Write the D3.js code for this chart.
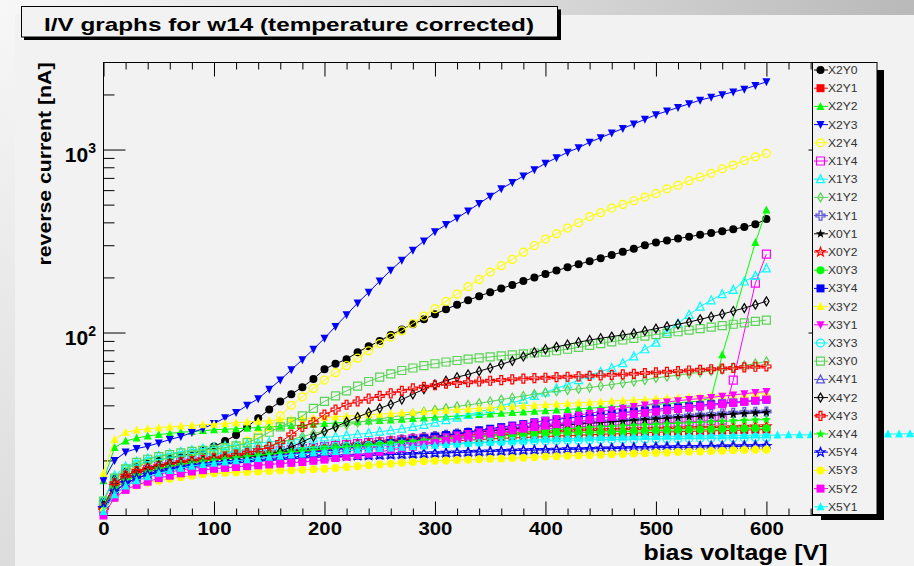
<!DOCTYPE html>
<html>
<head>
<meta charset="utf-8">
<script src="https://cdn.jsdelivr.net/npm/d3@7"></script>
<style>
  body { margin: 0; background: #f2f2f2; }
  svg { display: block; }
  text { font-family: "Liberation Sans", Arial, Helvetica, sans-serif; }
</style>
</head>
<body>
<div id="chart"></div>
<script>
// bias voltage steps [V]
const voltages = [0,10,20,30,40,50,60,70,80,90,100,110,120,130,140,150,160,170,180,190,200,210,220,230,240,250,260,270,280,290,300,310,320,330,340,350,360,370,380,390,400,410,420,430,440,450,460,470,480,490,500,510,520,530,540,550,560,570,580,590,600,610,620,630,640,650,660,670,680,690,700,710,720,730,740];

const seriesNames = ["X2Y0","X2Y1","X2Y2","X2Y3","X2Y4","X1Y4","X1Y3","X1Y2","X1Y1","X0Y1","X0Y2","X0Y3","X3Y4","X3Y2","X3Y1","X3Y3","X3Y0","X4Y1","X4Y2","X4Y3","X4Y4","X5Y4","X5Y3","X5Y2","X5Y1"];
const seriesColors = ["#000000","#ff0000","#00ff00","#0000ff","#ffff00","#ff00ff","#00ffff","#59d454","#5954d9","#000000","#ff0000","#00ff00","#0000ff","#ffff00","#ff00ff","#00ffff","#59d454","#5954d9","#000000","#ff0000","#00ff00","#0000ff","#ffff00","#ff00ff","#00ffff"];
const seriesMarkers = [20,21,22,23,24,25,26,27,28,29,30,20,21,22,23,24,25,26,27,28,29,30,20,21,22];

// reverse current [nA], one value per voltage step (null = no point)
const x2y0 = [12,16,17.5,18.5,19.3,20,20.6,21.2,21.8,22.6,23.8,25.5,27.5,30.5,34,38,42,46,50.3,55.7,63,67.5,71.5,78,84,90,97,104,111,118,126,134,142,150,158,166,174,182,191,200,209,218,227,236,245,255,265,276,287,300,310,318,326,334,342,350,358,367,377,390,417];
const x2y1 = [11,14,15.5,16.5,17.3,18,18.5,19,19.4,19.8,20.2,20.5,20.8,21,21.3,21.5,21.8,22,22.3,22.5,22.8,23,23.3,23.5,23.8,24,24.3,24.5,24.8,25,25.2,25.4,25.6,25.8,26,26.2,26.4,26.5,26.7,26.8,27,27.2,27.3,27.5,27.6,27.8,27.9,28,28.2,28.3,28.5,28.6,28.7,28.8,28.9,29,29.1,29.2,29.3,29.4,29.5];
const x2y2 = [15.5,23.5,25.5,26.5,27.2,27.7,28.1,28.5,28.8,29.1,29.4,29.6,29.8,30,30.3,30.5,30.7,31,31.2,31.5,31.8,32,32.3,32.5,32.8,33,33.3,33.6,33.9,34.1,34.4,34.7,35,35.3,35.6,35.9,36.2,36.5,36.8,37.1,37.4,37.7,38,38.3,38.6,38.9,39.2,39.5,39.8,40.1,40.5,40.9,41.3,41.7,42.2,44,75.5,null,null,310,467];
const x2y3 = [15.5,20,22.2,23.2,23.9,24.9,26,27,28.4,29.8,31.8,34.2,36.5,40,43.5,49,55,62.6,71,81,93,108,125,145,166,191,219,248,282,316,355,389,422,462,507,556,610,661,716,776,841,902,966,1023,1096,1161,1230,1303,1380,1462,1549,1622,1698,1778,1862,1928,1995,2065,2138,2239,2344];
const x2y4 = [12,16,17.5,18.5,19.3,20,20.5,21,21.5,22,22.5,23.2,24.2,25.5,27.5,30.5,35,40,44.5,49.5,55,60.3,66,72.4,79.4,87,94.4,102,112,123,135,148,162,178,195,214,232,251,275,299,324,347,372,398,430,452,479,501,525,550,575,610,638,676,708,741,785,822,871,912,953];
const x1y4 = [11,14.5,16,17,17.8,18.5,19,19.5,19.9,20.3,20.7,21,21.4,21.7,22,22.3,22.6,22.9,23.2,23.5,23.8,24.1,24.4,24.7,25,25.3,25.6,25.9,26.2,26.5,26.8,27.1,27.4,27.7,28,28.3,28.6,28.9,29.2,29.5,29.8,30,30.3,30.5,30.8,31,31.2,31.4,31.6,31.8,32,32.2,32.4,32.6,32.8,33,33.2,55,null,186,268];
const x1y3 = [12,16.5,18.5,19.7,20.5,21.2,21.8,22.3,22.8,23.2,23.6,24,24.3,24.6,24.9,25.2,25.5,25.8,26.1,26.4,26.7,27,27.4,27.8,28.2,28.7,29.2,29.8,30.5,31.3,32.2,33.2,34.3,35.5,36.8,38.2,39.7,41.3,43,45,47,49.5,52,55,58.5,61,64,68,74,81,88,101,112,125,138.6,150,162,171,190,204,224];
const x1y2 = [11,15,16.5,17.5,18.3,19,19.4,19.8,20.2,20.6,21.5,22,22.5,23,23.5,24.2,25,26,27,28,29,30.2,31.3,32.2,33,33.7,34.5,35.2,36,36.9,37.8,38.6,39.5,40.2,41,42,43,44,45,46,47,47.7,48.5,49.2,50,51,52,53,54,55,56.5,57.5,58.5,59.5,60.5,61.7,63,64.5,66,67.7,69.5];
const x1y1 = [11,14.5,16,17,17.8,18.5,19,19.5,20,20.3,20.5,20.8,21.1,21.4,21.7,22,22.3,22.6,22.9,23.2,23.5,23.8,24.1,24.4,24.8,25.2,25.6,26,26.4,26.8,27.2,27.6,28,28.4,28.8,29.2,29.6,30,30.4,30.8,31.2,31.5,31.8,32.1,32.4,32.7,33,33.3,33.6,34,34.3,34.6,34.9,35.2,35.5,35.8,36.1,36.4,36.7,36.9,37];
const x0y1 = [11,14.5,16,17,17.8,18.5,19,19.5,19.9,20.2,20.5,20.8,21.1,21.4,21.7,22,22.3,22.6,22.9,23.2,23.5,23.8,24.1,24.4,24.7,25,25.4,25.8,26.2,26.6,27,27.4,27.8,28.2,28.6,29,29.4,29.8,30.1,30.4,30.7,31,31.3,31.6,31.9,32.2,32.5,32.8,33.1,33.4,33.7,34,34.3,34.6,34.9,35.2,35.5,35.8,36.1,36.4,36.6];
const x0y2 = [11,14.5,16,17,17.8,18.5,19,19.5,19.9,20.3,20.6,20.9,21.2,21.5,21.8,22.1,22.4,22.7,23,23.3,23.6,23.9,24.2,24.5,24.8,25.1,25.4,25.7,26,26.2,26.4,26.6,26.8,27,27.2,27.4,27.6,27.8,28,28.2,28.4,28.6,28.8,29,29.1,29.2,29.3,29.4,29.5,29.6,29.7,29.8,29.9,30,30.1,30.2,30.3,30.4,30.5,30.6,30.7];
const x0y3 = [11,14,15.5,16.5,17.3,18,18.5,19,19.4,19.8,20.1,20.4,20.7,21,21.3,21.6,21.9,22.2,22.5,22.8,23.1,23.4,23.7,24,24.3,24.6,24.9,25.2,25.5,25.8,26.1,26.3,26.5,26.7,26.9,27.1,27.3,27.5,27.7,27.9,28.1,28.2,28.3,28.4,28.5,28.6,28.7,28.8,28.9,29,29.1,29.2,29.3,29.4,29.5,29.6,29.7,29.8,29.9,30,30];
const x3y4 = [10.5,13.5,15,16,16.8,17.5,18,18.5,18.9,19.2,19.5,19.8,20.1,20.4,20.7,21,21.3,21.6,21.9,22.2,22.5,22.9,23.3,23.7,24.1,24.5,24.9,25.4,25.9,26.4,27,27.5,28,28.6,29.2,29.8,30.4,31,31.6,32.3,33,33.5,34,34.5,35,35.5,36,36.5,37,37.5,38,38.5,39,39.5,40,40.5,41,41.5,42,42.5,43];
const x3y2 = [17,26,28.5,29.3,29.8,30.2,30.5,30.8,31.1,31.3,31.5,31.8,32.1,32.4,32.7,33,33.3,33.6,33.9,34.1,34.3,34.6,34.9,35.2,35.5,35.8,36.1,36.4,36.7,37,37.3,37.6,37.9,38.2,38.5,38.8,39.2,39.5,39.8,40.1,40.4,40.7,41,41.3,41.6,41.9,42.2,42.5,42.8,43.1,43.4,43.7,44,44.3,44.6,45,45.3,45.7,46,46.4,46.8];
const x3y1 = [10.5,13,14.5,15.5,16.2,16.8,17.3,17.7,18.1,18.4,18.7,19,19.3,19.6,19.9,20.2,20.5,20.8,21.1,21.4,21.7,22.1,22.5,22.9,23.3,23.8,24.3,24.8,25.3,25.8,26.3,26.9,27.5,28.1,28.7,29.4,30.1,30.8,31.5,32.2,33,33.8,34.6,35.4,36.2,37,37.8,38.6,39.4,40.2,41,41.7,42.4,43,43.6,44.2,44.9,45.6,46.3,47,47.6];
const x3y3 = [12,16,18,19,19.7,20.2,20.6,21,21.3,21.6,21.8,22,22.2,22.4,22.6,22.8,23,23.2,23.4,23.6,23.7,23.8,23.9,24,24.1,24.2,24.3,24.4,24.5,24.6,24.7,24.8,24.9,25,25.1,25.2,25.3,25.4,25.5,25.6,25.6,25.7,25.8,25.8,25.9,26,26,26.1,26.1,26.2,26.2,26.3,26.3,26.4,26.4,26.5,26.5,26.6,26.6,26.7,26.7];
const x3y0 = [12,16,18,19.5,20.3,21,21.5,22,22.4,22.7,23,23.5,24,25,26.5,28.5,30.5,32.5,35,38.5,42,45,48,51,54,57,59.5,62,64,66,67.5,69,70.3,71.5,72.6,73.6,74.6,75.5,76.4,77.3,78.2,79.5,81,83,85,87,89,91,93,95.5,97.5,99,101,103,105,107,109,111,113,115,117];
const x4y1 = [11,13.5,15,16,16.7,17.2,17.7,18.1,18.5,18.8,19,19.2,19.4,19.6,19.8,20,20.2,20.4,20.6,20.8,20.9,21,21.1,21.2,21.3,21.4,21.5,21.6,21.7,21.8,21.9,22,22.1,22.2,22.3,22.4,22.5,22.6,22.7,22.8,22.9,23,23.1,23.2,23.3,23.4,23.5,23.6,23.7,23.8,23.9,24,24,24.1,24.1,24.2,24.2,24.3,24.3,24.4,24.4];
const x4y2 = [11,15,16.5,17.5,18.2,18.8,19.3,19.6,19.9,20.1,20.3,20.5,20.7,20.9,21.1,21.4,22.4,23.7,25.2,27,28.8,30.5,32.5,34.5,36.5,38.5,40.5,43,46,49,52,54.5,57,59,61.5,64,67,70,74,78,81,83.5,86,88.5,91,93,95,97,99,102,105,108,111,114,118,122,126,131,136,142,148];
const x4y3 = [11,15,16.5,17.5,18,18.5,19,19.5,19.8,20.1,20.5,21,21.5,22,22.7,23.7,25.2,27.7,30.5,32.3,35.6,37.9,40.3,42,43.5,45,46.5,48,49.5,50.5,51.5,52.5,53,53.5,54,54.5,55,55.5,56,56.3,56.6,57,57.3,57.6,58,58.3,58.7,59,59.5,60,60.5,61,61.5,62,62.5,63,63.5,64,64.5,65,65.3];
const x4y4 = [11,14,15.5,16.5,17.3,18,18.5,19,19.4,19.8,20.1,20.4,20.7,21,21.3,21.6,21.9,22.2,22.5,22.8,23.1,23.4,23.7,24,24.3,24.6,24.9,25.2,25.5,25.8,26.1,26.4,26.7,27,27.3,27.6,27.9,28.2,28.5,28.8,29.1,29.4,29.7,30,30.3,30.5,30.7,30.9,31.1,31.3,31.5,31.7,31.9,32.1,32.3,32.5,32.7,32.9,33.1,33.3,33.4];
const x5y4 = [11,13.5,15,16,16.7,17.2,17.7,18.1,18.5,18.8,19,19.2,19.4,19.6,19.8,20,20.2,20.4,20.6,20.8,20.9,21,21.1,21.2,21.3,21.4,21.5,21.6,21.7,21.8,21.9,22,22.1,22.2,22.3,22.4,22.5,22.6,22.7,22.8,22.8,22.9,23,23,23.1,23.2,23.2,23.3,23.4,23.4,23.5,23.5,23.6,23.6,23.7,23.7,23.8,23.8,23.9,23.9,24];
const x5y3 = [10.5,12.5,13.8,14.6,15.1,15.5,15.9,16.2,16.5,16.8,17,17.1,17.2,17.3,17.4,17.5,17.6,17.7,17.8,17.9,18,18.2,18.4,18.6,18.8,19,19.2,19.4,19.6,19.8,19.9,20,20.1,20.2,20.3,20.4,20.5,20.6,20.7,20.8,21,21.1,21.2,21.3,21.4,21.5,21.6,21.7,21.8,21.9,22,22.1,22.2,22.3,22.4,22.5,22.6,22.7,22.8,22.9,22.9];
const x5y2 = [10,12.5,13.8,14.7,15.3,16,16.5,17,17.4,17.7,18,18.2,18.4,18.6,18.8,19,19.2,19.4,19.6,19.9,20.2,20.6,21,21.4,21.8,22.3,22.8,23.3,23.8,24.4,25,25.6,26.2,26.8,27.4,28,28.6,29.2,29.8,30.4,31,31.6,32.2,32.8,33.4,34,34.6,35.2,35.8,36.4,37,37.6,38.2,38.8,39.4,40,40.6,41.2,41.8,42.4,43];
const x5y1 = [10.5,13,14.5,15.5,16.3,17,17.6,18.1,18.6,19,19.3,19.6,19.9,20.2,20.5,20.8,21.1,21.4,21.7,22,22.2,22.4,22.6,22.8,23,23.2,23.4,23.6,23.8,24,24.2,24.4,24.6,24.8,25,25.2,25.4,25.6,25.8,26,26.1,26.2,26.3,26.4,26.5,26.6,26.7,26.8,26.9,27,27,27.1,27.1,27.2,27.2,27.3,27.3,27.4,27.4,27.5,27.5,27.5,27.6,27.6,27.6,27.7,27.7,27.7,27.8,27.8,27.8,27.9,27.9,28,28];

const seriesValues = [x2y0,x2y1,x2y2,x2y3,x2y4,x1y4,x1y3,x1y2,x1y1,x0y1,x0y2,x0y3,x3y4,x3y2,x3y1,x3y3,x3y0,x4y1,x4y2,x4y3,x4y4,x5y4,x5y3,x5y2,x5y1];

// axis ticks
const xMajorTicks = [0,100,200,300,400,500,600];
const xMinorTicks = [20,40,60,80,120,140,160,180,220,240,260,280,320,340,360,380,420,440,460,480,520,540,560,580,620,640];
const yMajorTicks = [100,1000];
const yMajorLabels = [["10","2"],["10","3"]];
const yMinorTicks = [20,30,40,50,60,70,80,90,200,300,400,500,600,700,800,900,2000];

const W = 914, H = 566;
const frame = { left: 103.5, right: 830.5, top: 62.5, bottom: 515.5 };

const svg = d3.select("#chart").append("svg").attr("width", W).attr("height", H);
const defs = svg.append("defs");

const gTop = defs.append("linearGradient").attr("id", "gTop").attr("x1", 0).attr("x2", 1).attr("y1", 0).attr("y2", 0);
gTop.append("stop").attr("offset", 0).attr("stop-color", "#f7f7f7");
gTop.append("stop").attr("offset", 0.45).attr("stop-color", "#e2e2e2");
gTop.append("stop").attr("offset", 1).attr("stop-color", "#b9b9b9");
const gLeft = defs.append("linearGradient").attr("id", "gLeft").attr("x1", 0).attr("x2", 0).attr("y1", 0).attr("y2", 1);
gLeft.append("stop").attr("offset", 0).attr("stop-color", "#f7f7f7");
gLeft.append("stop").attr("offset", 1).attr("stop-color", "#dcdcdc");

// slide background and canvas
svg.append("rect").attr("x", 0).attr("y", 0).attr("width", 15).attr("height", H).attr("fill", "url(#gLeft)");
svg.append("rect").attr("x", 0).attr("y", 0).attr("width", W).attr("height", 15).attr("fill", "url(#gTop)");
svg.append("rect").attr("x", 15).attr("y", 15).attr("width", W - 15).attr("height", H - 15).attr("fill", "#f2f2f2");

const x = d3.scaleLinear().domain([0, 658]).range([frame.left, frame.right]);
const y = d3.scaleLog().domain([10, 2990]).range([frame.bottom, frame.top]);

function cleanAxis(group) {
  group.select(".domain").remove();
  group.selectAll("line").attr("stroke", "#000");
}

// ticks on all four sides, pointing inward
svg.append("g").attr("transform", `translate(0,${frame.bottom})`)
  .call(d3.axisBottom(x).tickValues(xMinorTicks).tickSize(-7).tickFormat(""))
  .call(cleanAxis);
svg.append("g").attr("transform", `translate(0,${frame.top})`)
  .call(d3.axisTop(x).tickValues(xMinorTicks).tickSize(-7).tickFormat(""))
  .call(cleanAxis);
svg.append("g").attr("transform", `translate(0,${frame.top})`)
  .call(d3.axisTop(x).tickValues(xMajorTicks).tickSize(-14).tickFormat(""))
  .call(cleanAxis);
svg.append("g").attr("class", "x-major").attr("transform", `translate(0,${frame.bottom})`)
  .call(d3.axisBottom(x).tickValues(xMajorTicks).tickSize(-14).tickPadding(7).tickFormat(d3.format("d")))
  .call(cleanAxis)
  .call((group) => group.selectAll("text")
    .attr("fill", "#000")
    .attr("font-size", 18)
    .attr("font-weight", "bold")
    .attr("font-family", "Liberation Sans, Arial, sans-serif")
    .attr("transform", "scale(1.13,1)"));

svg.append("g").attr("transform", `translate(${frame.left},0)`)
  .call(d3.axisLeft(y).tickValues(yMinorTicks).tickSize(-11).tickFormat(""))
  .call(cleanAxis);
svg.append("g").attr("transform", `translate(${frame.left},0)`)
  .call(d3.axisLeft(y).tickValues(yMajorTicks).tickSize(-22).tickFormat(""))
  .call(cleanAxis);
svg.append("g").attr("transform", `translate(${frame.right},0)`)
  .call(d3.axisRight(y).tickValues(yMinorTicks).tickSize(-11).tickFormat(""))
  .call(cleanAxis);
svg.append("g").attr("transform", `translate(${frame.right},0)`)
  .call(d3.axisRight(y).tickValues(yMajorTicks).tickSize(-22).tickFormat(""))
  .call(cleanAxis);

svg.append("rect")
  .attr("x", frame.left).attr("y", frame.top)
  .attr("width", frame.right - frame.left).attr("height", frame.bottom - frame.top)
  .attr("fill", "none").attr("stroke", "#000").attr("stroke-width", 1);

// y labels 10^2, 10^3
const yLab = svg.append("g").selectAll("text").data(yMajorTicks).join("text")
  .attr("x", 96)
  .attr("y", (d) => y(d) + 12)
  .attr("text-anchor", "end")
  .attr("font-size", 21)
  .attr("font-weight", "bold");
yLab.append("tspan").text((d, i) => yMajorLabels[i][0]);
yLab.append("tspan").attr("dy", -9).attr("font-size", 14).text((d, i) => yMajorLabels[i][1]);

// axis titles
svg.append("text")
  .attr("x", frame.right - 3).attr("y", 560)
  .attr("text-anchor", "end")
  .attr("font-size", 22).attr("font-weight", "bold")
  .attr("textLength", 184).attr("lengthAdjust", "spacingAndGlyphs")
  .text("bias voltage [V]");
svg.append("text")
  .attr("transform", `translate(51,${frame.top}) rotate(-90)`)
  .attr("text-anchor", "end")
  .attr("font-size", 19).attr("font-weight", "bold")
  .attr("textLength", 203).attr("lengthAdjust", "spacingAndGlyphs")
  .text("reverse current [nA]");

// ROOT-style marker shapes
function starPath(ro, ri) {
  const pts = d3.range(10).map((k) => {
    const a = -Math.PI / 2 + (k * Math.PI) / 5;
    const r = k % 2 === 0 ? ro : ri;
    return [r * Math.cos(a), r * Math.sin(a)];
  });
  return "M" + pts.map((p) => p.join(",")).join("L") + "Z";
}
function markerPath(m) {
  switch (m) {
    case 20: case 24: return "M-4,0A4,4 0 1,0 4,0A4,4 0 1,0 -4,0Z";
    case 21: case 25: return "M-4,-4H4V4H-4Z";
    case 22: case 26: return "M-4,3.5L4,3.5L0,-4.5Z";
    case 23: return "M-4,-3.5L4,-3.5L0,4.5Z";
    case 27: return "M0,-4.5L2.7,0L0,4.5L-2.7,0Z";
    case 28: return "M-1.4,-4.5H1.4V-1.4H4.5V1.4H1.4V4.5H-1.4V1.4H-4.5V-1.4H-1.4Z";
    default: return starPath(4.8, 2);
  }
}
const filledMarkers = [20, 21, 22, 23, 29];

const line = d3.line().x((d) => x(d.v)).y((d) => y(d.c));

const plot = svg.append("g");
seriesValues.forEach((values, i) => {
  const points = values
    .map((c, j) => ({ v: voltages[j], c }))
    .filter((d) => d.c != null);
  const color = seriesColors[i];
  const filled = filledMarkers.includes(seriesMarkers[i]);
  const g = plot.append("g");
  g.append("path").datum(points)
    .attr("d", line)
    .attr("fill", "none")
    .attr("stroke", color)
    .attr("stroke-width", 1);
  g.selectAll("path.marker").data(points).join("path")
    .attr("class", "marker")
    .attr("transform", (d) => `translate(${x(d.v)},${y(d.c)})`)
    .attr("d", markerPath(seriesMarkers[i]))
    .attr("fill", filled ? color : "none")
    .attr("stroke", filled ? "none" : color)
    .attr("stroke-width", 1.2);
});

// legend with shadow
const legend = { x: 812.5, y: 62.5, w: 64.5, h: 452 };
svg.append("rect").attr("x", 821).attr("y", 70).attr("width", 63).attr("height", 450).attr("fill", "#000");
svg.append("rect").attr("x", legend.x).attr("y", legend.y).attr("width", legend.w).attr("height", legend.h)
  .attr("fill", "#f2f2f2").attr("stroke", "#000").attr("stroke-width", 1);

const entries = svg.append("g").selectAll("g").data(seriesNames).join("g")
  .attr("transform", (d, i) => `translate(0,${70 + 18.2 * i})`);
entries.append("line")
  .attr("x1", 814).attr("x2", 828).attr("y1", 0).attr("y2", 0)
  .attr("stroke", (d, i) => seriesColors[i]).attr("stroke-width", 1);
entries.append("path")
  .attr("transform", "translate(820.5,0)")
  .attr("d", (d, i) => markerPath(seriesMarkers[i]))
  .attr("fill", (d, i) => (filledMarkers.includes(seriesMarkers[i]) ? seriesColors[i] : "none"))
  .attr("stroke", (d, i) => (filledMarkers.includes(seriesMarkers[i]) ? "none" : seriesColors[i]))
  .attr("stroke-width", 1.2);
entries.append("text")
  .attr("transform", "translate(828,4) scale(1.1,1)")
  .attr("font-size", 11)
  .attr("fill", "#333")
  .text((d) => d);

// title box
svg.append("rect").attr("x", 24).attr("y", 9.5).attr("width", 537).attr("height", 30.5).attr("fill", "#000");
svg.append("rect").attr("x", 21.5).attr("y", 6.5).attr("width", 536).attr("height", 30.5)
  .attr("fill", "#f2f2f2").attr("stroke", "#000").attr("stroke-width", 1);
svg.append("text")
  .attr("x", 44).attr("y", 31)
  .attr("font-size", 19).attr("font-weight", "bold")
  .attr("textLength", 490).attr("lengthAdjust", "spacingAndGlyphs")
  .text("I/V graphs for w14 (temperature corrected)");
</script>
</body>
</html>
